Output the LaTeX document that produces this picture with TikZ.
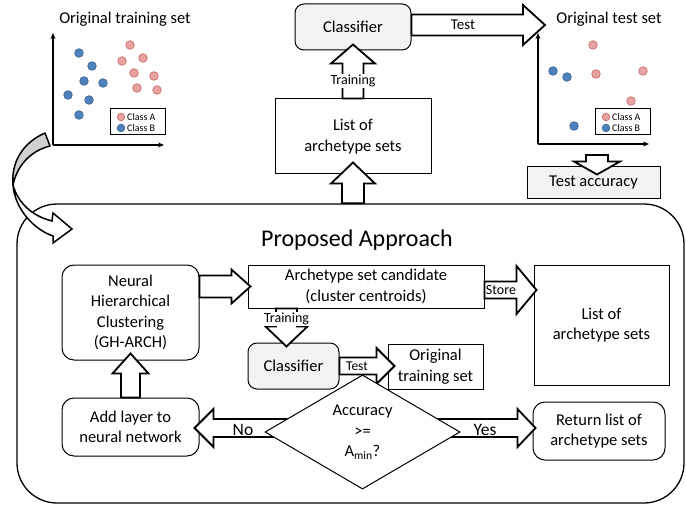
\documentclass[tikz,border=0pt]{standalone}
\usepackage{fontspec}
\setmainfont{Carlito}
\usetikzlibrary{calc,shapes.geometric,arrows.meta}
\definecolor{ptred}{HTML}{E8A2A2}
\definecolor{ptredb}{HTML}{CC6E6E}
\definecolor{ptblue}{HTML}{4F81BD}
\definecolor{ptblueb}{HTML}{3A6597}
\definecolor{boxgrey}{HTML}{F2F2F2}
\definecolor{curvegrey}{HTML}{D0D0D0}
\newcommand\mainsize{\fontsize{16.5}{20.5}\selectfont}
\newcommand\lblsize{\fontsize{14}{16}\selectfont}
\newcommand\legsize{\fontsize{10}{12}\selectfont}
\newcommand\barrow[5]{%
  \coordinate (ba-t) at #1;
  \coordinate (ba-p) at #2;
  \coordinate (ba-h) at ($(ba-p)!#5!(ba-t)$);
  \draw[blockarrow] ($(ba-t)!#3!90:(ba-p)$) -- ($(ba-h)!#3!90:(ba-p)$) -- ($(ba-h)!#4!90:(ba-p)$) -- (ba-p) -- ($(ba-h)!#4!-90:(ba-p)$) -- ($(ba-h)!#3!-90:(ba-p)$) -- ($(ba-t)!#3!-90:(ba-p)$) -- cycle;}
\tikzset{
  blockarrow/.style={draw=black, line width=1.8pt, fill=white, line join=miter},
  box/.style={draw, line width=1pt, fill=white, align=center, inner sep=0pt, font=\mainsize},
  rbox/.style={box, rounded corners=10pt},
  gbox/.style={box, fill=boxgrey},
  lbl/.style={font=\lblsize, inner sep=1pt},
  axis/.style={line width=1.1pt, -{Stealth[length=6pt,width=5pt]}},
  ptA/.style={fill=ptred, draw=ptredb, line width=0.7pt},
  ptB/.style={fill=ptblue, draw=ptblueb, line width=0.7pt},
  legbox/.style={draw, line width=1pt, fill=white, minimum width=55pt, minimum height=26pt, inner sep=0pt},
  legtxt/.style={font=\legsize, anchor=west, inner sep=0pt},
  ttl/.style={font=\mainsize, inner sep=0pt}
}
\begin{document}
\begin{tikzpicture}[x=1pt,y=-1pt]
\useasboundingbox (0,0) rectangle (686,508);

% ---------- big frame ----------
\node[draw, line width=1.3pt, rounded corners=40pt, minimum width=667pt, minimum height=299pt, inner sep=0pt] (frame) at (350.5,353.5) {};
\node[font=\fontsize{24}{28}\selectfont, inner sep=0pt] (ptitle) at (357,240) {Proposed Approach};

% ---------- original training set plot ----------
\node[ttl] (trtitle) at (125,19) {Original training set};
\coordinate (tro) at (53,145);
\draw[axis] (tro) -- (53,33);
\draw[axis] (tro) -- (164,145);
\foreach \p in {(79,53),(92,66),(84,81),(103,83),(68,95),(89,100),(79,115)}
  \path[ptB] \p circle[radius=4.3pt];
\foreach \p in {(130,45),(122,61),(143,58),(134,73),(154,76),(137,88),(157,90)}
  \path[ptA] \p circle[radius=4.3pt];
\node[legbox] (trleg) at (137.5,122) {};
\path[ptA] (121,117) circle[radius=3.8pt];
\path[ptB] (121,128) circle[radius=3.8pt];
\node[legtxt] (trlegA) at (127,117) {Class A};
\node[legtxt] (trlegB) at (127,128) {Class B};

% ---------- original test set plot ----------
\node[ttl] (tetitle) at (609,19) {Original test set};
\coordinate (teo) at (538,144);
\draw[axis] (teo) -- (538,33);
\draw[axis] (teo) -- (649,144);
\foreach \p in {(593,45),(596,74),(643,71),(631,101)}
  \path[ptA] \p circle[radius=4.3pt];
\foreach \p in {(553,71),(567,77),(574,126)}
  \path[ptB] \p circle[radius=4.3pt];
\node[legbox] (teleg) at (622.5,122) {};
\path[ptA] (606,117) circle[radius=3.8pt];
\path[ptB] (606,128) circle[radius=3.8pt];
\node[legtxt] (telegA) at (612,117) {Class A};
\node[legtxt] (telegB) at (612,128) {Class B};

% ---------- top flow ----------
\node[gbox, rounded corners=9pt, minimum width=116pt, minimum height=46pt] (clsTop) at (353,27) {Classifier};
\node[box, minimum width=156pt, minimum height=75pt] (listTop) at (353,136.5) {List of\\archetype sets};
\node[gbox, minimum width=133pt, minimum height=32pt] (accTop) at (593.5,183) {Test accuracy};
\coordinate (testTip) at (545,25);
\coordinate (accTail) at (597,155);

\barrow{($(listTop.south |- frame.north)$)}{($(listTop.south)+(0,-12)$)}{11pt}{22pt}{21pt}
\barrow{(listTop.north)}{($(clsTop.south)+(0,-6)$)}{10.5pt}{22pt}{19pt}
\node[lbl, fill=white] (trainTop) at (353,81) {Training};
\barrow{($(clsTop.east)+(0,-2)$)}{(testTip)}{10.5pt}{20pt}{22pt}
\node[lbl, font=\fontsize{15}{17}\selectfont] (testTop) at (463,25) {Test};
\barrow{(accTail)}{($(accTail |- accTop.north)+(0,8)$)}{11pt}{23pt}{13pt}

% ---------- curved arrow ----------
\filldraw[fill=curvegrey, line width=1.5pt, line join=round] (45,133) .. controls (22,143) and (11,163) .. (13,185) .. controls (17,166) and (30,151) .. (50,146) -- cycle;
\filldraw[fill=white, line width=1.5pt, line join=miter] (13,185) .. controls (15,210) and (35,230) .. (53,236) -- (53,243) -- (72,229) -- (53,213) -- (52,221) .. controls (32,216) and (18,203) .. (13,185) -- cycle;

% ---------- inner flow ----------
\node[rbox, rounded corners=12pt, minimum width=137pt, minimum height=95pt] (nhc) at (130.5,312.5) {Neural\\Hierarchical\\Clustering\\(GH-ARCH)};
\node[box, minimum width=236pt, minimum height=43pt] (cand) at (366,286.5) {Archetype set candidate\\(cluster centroids)};
\node[box, minimum width=135pt, minimum height=120pt] (listIn) at (601.5,325) {List of\\archetype sets};
\node[gbox, rounded corners=9pt, minimum width=91pt, minimum height=46pt] (clsIn) at (293.5,366) {Classifier};
\node[box, minimum width=95pt, minimum height=45pt] (ots) at (435.5,366.5) {Original\\training set};
\node[rbox, rounded corners=12pt, minimum width=137pt, minimum height=58pt] (addL) at (130.5,427) {Add layer to\\neural network};
\node[rbox, rounded corners=12pt, minimum width=132pt, minimum height=58pt] (ret) at (599,431) {Return list of\\archetype sets};

\barrow{($(nhc.east |- cand.west)$)}{($(cand.west)+(3,0)$)}{11pt}{17pt}{19pt}
\coordinate (stT) at ($(cand.east)+(0,3.5)$);
\barrow{(stT)}{($(stT -| listIn.west)+(3,0)$)}{8.5pt}{24pt}{20pt}
\node[lbl] (storeL) at (501,290) {Store};
\barrow{($(clsIn.north |- cand.south)+(-7,0)$)}{($(clsIn.north)+(-7,4)$)}{10.5pt}{21pt}{20pt}
\node[lbl, fill=white] (trainIn) at (286.5,319) {Training};
\barrow{(clsIn.east)}{($(clsIn.east -| ots.west)+(7,0)$)}{8.5pt}{18pt}{18pt}
\node[lbl, font=\fontsize{13.5}{15}\selectfont] (testIn) at (357,366) {Test};
\barrow{(addL.north)}{($(nhc.south)+(0,-7)$)}{9.5pt}{18pt}{20pt}

\coordinate (noT) at (302.5,428);
\coordinate (yesT) at (422.5,428);
\barrow{(noT)}{($(noT -| addL.east)+(-5,0)$)}{9pt}{19pt}{19pt}
\barrow{(yesT)}{($(yesT -| ret.west)+(3,0)$)}{9pt}{19pt}{18pt}
\node[lbl, font=\fontsize{17.5}{20}\selectfont] (noL) at (243,430) {No};
\node[lbl, font=\fontsize{17.5}{20}\selectfont] (yesL) at (485,430) {Yes};

\node[diamond, draw, line width=1pt, fill=white, minimum width=195pt, minimum height=110pt, inner sep=0pt, align=center, font=\mainsize] (dia) at (362.5,432) {Accuracy\\>=\\A\textsubscript{min}?};
\end{tikzpicture}
\end{document}
